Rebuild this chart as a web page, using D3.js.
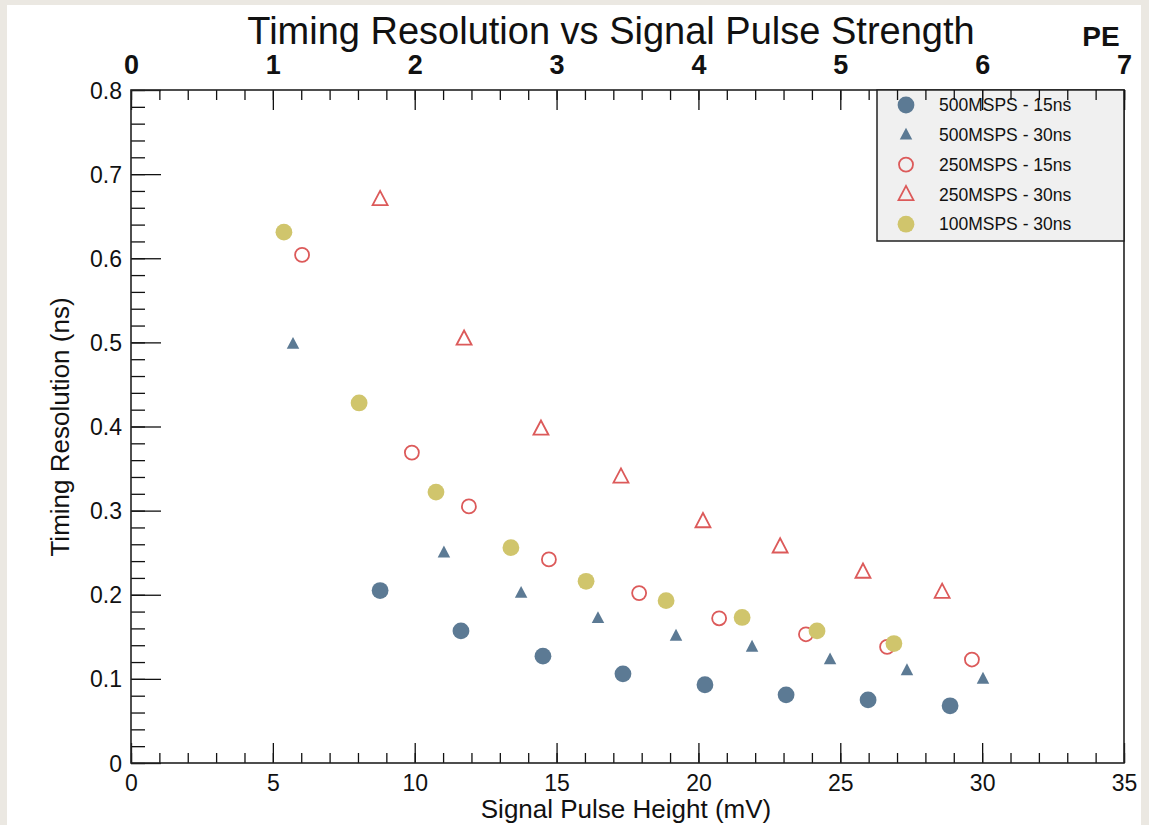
<!DOCTYPE html>
<html>
<head>
<meta charset="utf-8">
<script src="https://cdn.jsdelivr.net/npm/d3@7"></script>
<style>
  body { margin: 0; background: #ebe8e2; }
  svg { display: block; }
  text { font-family: "Liberation Sans", Arial, sans-serif; fill: #111; }
</style>
</head>
<body>
<svg id="chart"></svg>
<script>
// series
const seriesNames = ['500MSPS - 15ns', '500MSPS - 30ns', '250MSPS - 15ns', '250MSPS - 30ns', '100MSPS - 30ns'];

const blueCircX = [8.78, 11.63, 14.52, 17.34, 20.23, 23.09, 25.98, 28.87];
const blueCircY = [0.205, 0.157, 0.127, 0.106, 0.093, 0.081, 0.075, 0.068];

const blueTriX = [5.71, 11.03, 13.75, 16.46, 19.21, 21.89, 24.64, 27.35, 30.03];
const blueTriY = [0.498, 0.250, 0.202, 0.172, 0.151, 0.138, 0.123, 0.110, 0.100];

const redCircX = [6.03, 9.90, 11.91, 14.73, 17.91, 20.73, 23.79, 26.65, 29.64];
const redCircY = [0.604, 0.369, 0.305, 0.242, 0.202, 0.172, 0.153, 0.138, 0.123];

const redTriX = [8.78, 11.74, 14.45, 17.27, 20.16, 22.88, 25.80, 28.59];
const redTriY = [0.670, 0.504, 0.397, 0.340, 0.287, 0.257, 0.227, 0.203];

const yellowX = [5.39, 8.04, 10.75, 13.39, 16.04, 18.86, 21.54, 24.18, 26.89];
const yellowY = [0.631, 0.428, 0.322, 0.256, 0.216, 0.193, 0.173, 0.157, 0.142];

const xTicks = [0, 5, 10, 15, 20, 25, 30, 35];
const yTicks = [0, 0.1, 0.2, 0.3, 0.4, 0.5, 0.6, 0.7, 0.8];
const peTicks = [0, 1, 2, 3, 4, 5, 6, 7];

const blue = '#5c7a94', red = '#dc5a5a', yellow = '#d0c56c';

const series = [
  { name: seriesNames[0], xs: blueCircX, ys: blueCircY, shape: 'circle', fill: true, color: blue },
  { name: seriesNames[1], xs: blueTriX, ys: blueTriY, shape: 'tri', fill: true, color: blue },
  { name: seriesNames[2], xs: redCircX, ys: redCircY, shape: 'circle', fill: false, color: red },
  { name: seriesNames[3], xs: redTriX, ys: redTriY, shape: 'tri', fill: false, color: red },
  { name: seriesNames[4], xs: yellowX, ys: yellowY, shape: 'circle', fill: true, color: yellow }
];

const W = 1149, H = 825;
const margin = { top: 90, right: 25, bottom: 62, left: 131 };
const iw = 1124 - margin.left, ih = 763 - margin.top;

const svg = d3.select('#chart').attr('width', W).attr('height', H);
svg.append('rect').attr('x', 7).attr('y', 5).attr('width', 1134).attr('height', 820).attr('fill', '#fff');

const chart = svg.append('g').attr('transform', `translate(${margin.left}, ${margin.top})`);

const xscale = d3.scaleLinear().domain([0, 35]).range([0, iw]);
const yscale = d3.scaleLinear().domain([0, 0.8]).range([ih, 0]);
const pescale = d3.scaleLinear().domain([0, 7]).range([0, iw]);

// bottom axis, ticks pointing inward
const xaxis = d3.axisBottom(xscale).tickValues(xTicks).tickSize(-20).tickSizeOuter(0).tickPadding(12)
  .tickFormat(d3.format('d'));
const xminor = d3.axisBottom(xscale).ticks(35).tickSize(-10).tickSizeOuter(0).tickFormat('');
const gxm = chart.append('g').attr('transform', `translate(0, ${ih})`).call(xminor);
const gx = chart.append('g').attr('transform', `translate(0, ${ih})`).call(xaxis);

// left axis
const yaxis = d3.axisLeft(yscale).tickValues(yTicks).tickSize(-30).tickSizeOuter(0).tickPadding(9)
  .tickFormat(d => d === 0 ? '0' : d3.format('.1f')(d));
const yminor = d3.axisLeft(yscale).ticks(40).tickSize(-14).tickSizeOuter(0).tickFormat('');
const gym = chart.append('g').call(yminor);
const gy = chart.append('g').call(yaxis);

// top PE axis
const peaxis = d3.axisTop(pescale).tickValues(peTicks).tickSize(-20).tickSizeOuter(0).tickPadding(16)
  .tickFormat(d3.format('d'));
const peminor = d3.axisTop(pescale).ticks(35).tickSize(-10).tickSizeOuter(0).tickFormat('');
const gpm = chart.append('g').call(peminor);
const gp = chart.append('g').call(peaxis);

[gx, gxm, gy, gym, gp, gpm].forEach(g => {
  g.selectAll('.domain').remove();
  g.selectAll('line').attr('stroke', '#111').attr('stroke-width', 1.3);
});
gx.selectAll('text').style('font-size', '23px').attr('fill', '#111').attr('dy', '0.71em');
gy.selectAll('text').style('font-size', '23px').attr('fill', '#111').attr('dy', '0.35em');
gp.selectAll('text').style('font-size', '27px').style('font-weight', 'bold').attr('fill', '#000');

// frame
chart.append('rect').attr('width', iw).attr('height', ih)
  .attr('fill', 'none').attr('stroke', '#222').attr('stroke-width', 1.6);

// legend
const leg = chart.append('g').attr('transform', `translate(${iw - 247}, 0)`);
leg.append('rect').attr('width', 247).attr('height', 151)
  .attr('fill', '#f0f0f0').attr('stroke', '#222').attr('stroke-width', 1.5);
// redraw top ticks over the legend fill, as in the picture
chart.append('g').call(peminor).call(g => {
  g.selectAll('.domain').remove();
  g.selectAll('text').remove();
  g.selectAll('line').attr('stroke', '#111').attr('stroke-width', 1.3);
  g.selectAll('.tick').filter(d => pescale(d) < iw - 247).remove();
});
chart.append('g').call(peaxis).call(g => {
  g.selectAll('.domain').remove();
  g.selectAll('text').remove();
  g.selectAll('line').attr('stroke', '#111').attr('stroke-width', 1.3);
  g.selectAll('.tick').filter(d => pescale(d) < iw - 247).remove();
});

const triPath = (s) => {
  const h = s * 0.95;
  return `M0,${-h * 0.6}L${s / 2},${h * 0.4}L${-s / 2},${h * 0.4}Z`;
};

function drawMarker(g, d, cx, cy) {
  if (d.shape === 'circle') {
    if (d.fill) {
      g.append('circle').attr('cx', cx).attr('cy', cy).attr('r', 8.4).attr('fill', d.color);
    } else {
      g.append('circle').attr('cx', cx).attr('cy', cy).attr('r', 7).attr('fill', 'none')
        .attr('stroke', d.color).attr('stroke-width', 1.8);
    }
  } else {
    if (d.fill) {
      g.append('path').attr('d', triPath(12.5)).attr('transform', `translate(${cx}, ${cy})`)
        .attr('fill', d.color);
    } else {
      g.append('path').attr('d', triPath(15)).attr('transform', `translate(${cx}, ${cy})`)
        .attr('fill', 'none').attr('stroke', d.color).attr('stroke-width', 1.8);
    }
  }
}

series.forEach((d, i) => {
  const ly = 15 + i * 29.8;
  drawMarker(leg, d, 29, ly);
  leg.append('text').attr('x', 62).attr('y', ly).attr('dy', '0.35em')
    .style('font-size', '17.5px').attr('fill', '#222').text(d.name);
});

// points
const pts = chart.append('g');
series.forEach(d => {
  d.xs.forEach((xv, j) => drawMarker(pts, d, xscale(xv), yscale(d.ys[j])));
});

// titles
svg.append('text').attr('x', 611).attr('y', 44).attr('text-anchor', 'middle')
  .style('font-size', '38px').text('Timing Resolution vs Signal Pulse Strength');
svg.append('text').attr('x', 1101).attr('y', 46).attr('text-anchor', 'middle')
  .style('font-size', '28px').style('font-weight', 'bold').attr('fill', '#000').text('PE');
svg.append('text').attr('x', 626).attr('y', 818).attr('text-anchor', 'middle')
  .style('font-size', '26px').text('Signal Pulse Height (mV)');
svg.append('text').attr('transform', 'rotate(-90)').attr('x', -427).attr('y', 69)
  .attr('text-anchor', 'middle').style('font-size', '26px').text('Timing Resolution (ns)');
</script>
</body>
</html>
